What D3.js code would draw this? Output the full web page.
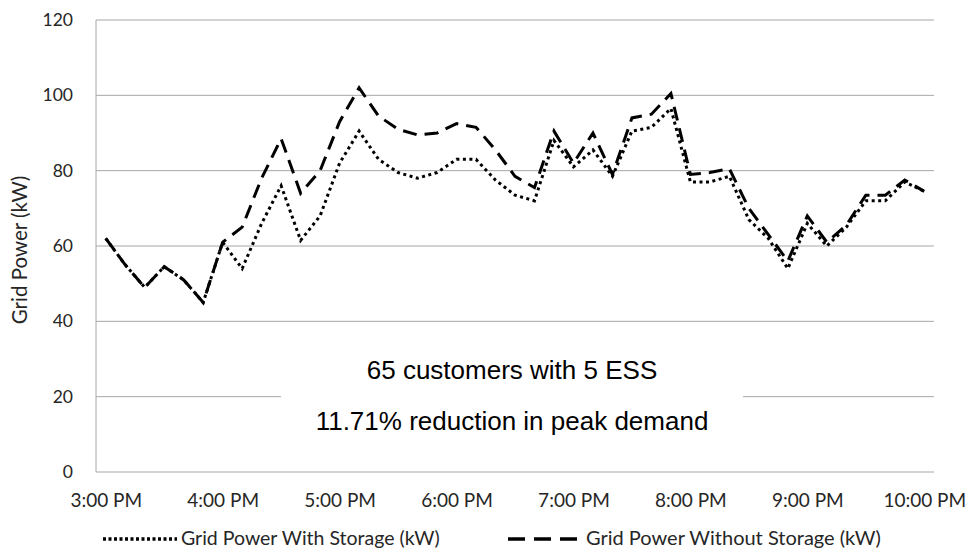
<!DOCTYPE html>
<html>
<head>
<meta charset="utf-8">
<script src="https://cdn.jsdelivr.net/npm/d3@7"></script>
<style>
  body { margin: 0; background: #fff; }
  text { font-family: Lato, "Open Sans", sans-serif; }
</style>
</head>
<body>
<svg id="chart"></svg>
<script>
// categories: every 10 minutes from 3:00 PM to 10:00 PM
const times = [
  '15:00', '15:10', '15:20', '15:30', '15:40', '15:50',
  '16:00', '16:10', '16:20', '16:30', '16:40', '16:50',
  '17:00', '17:10', '17:20', '17:30', '17:40', '17:50',
  '18:00', '18:10', '18:20', '18:30', '18:40', '18:50',
  '19:00', '19:10', '19:20', '19:30', '19:40', '19:50',
  '20:00', '20:10', '20:20', '20:30', '20:40', '20:50',
  '21:00', '21:10', '21:20', '21:30', '21:40', '21:50',
  '22:00'
];

const withStorage = [
  62, 55, 49, 54.5, 51, 45,
  61, 54, 66, 76, 61.5, 68,
  82, 90.5, 83, 79.5, 78, 79.5,
  83, 83, 77.5, 73.5, 72, 88,
  81, 85.5, 78.5, 90.5, 91.5, 96.5,
  77, 77, 78.5, 67, 62, 54,
  66, 60, 65, 72, 72, 77,
  74.5
];

const withoutStorage = [
  62, 55, 49, 54.5, 51, 45,
  61, 65, 78, 88.5, 74, 80,
  93, 102, 94.5, 91, 89.5, 90,
  92.5, 91.5, 85.5, 78.5, 75.5, 90.5,
  82, 90, 79, 94, 95, 100.5,
  79, 79.5, 80.5, 70, 63, 56,
  68, 61, 65.5, 73.5, 73.5, 77.5,
  74.5
];

const xTickLabels = ['3:00 PM', '4:00 PM', '5:00 PM', '6:00 PM', '7:00 PM', '8:00 PM', '9:00 PM', '10:00 PM'];
const yTicks = [0, 20, 40, 60, 80, 100, 120];
const seriesNames = ['Grid Power With Storage (kW)', 'Grid Power Without Storage (kW)'];
const noteLines = ['65 customers with 5 ESS', '11.71% reduction in peak demand'];

const W = 969, H = 555;
const margin = { top: 20, left: 96, right: 35, bottom: 83 };
const width = W - margin.left - margin.right;
const height = H - margin.top - margin.bottom;

const svg = d3.select('#chart').attr('width', W).attr('height', H);
const g = svg.append('g').attr('transform', `translate(${margin.left}, ${margin.top})`);

const x = d3.scalePoint()
  .domain(times)
  .range([0, width])
  .padding(0.5);

const y = d3.scaleLinear()
  .domain([0, 120])
  .range([height, 0]);

// grid lines
g.append('g')
  .selectAll('line')
  .data(yTicks)
  .enter()
  .append('line')
  .attr('x1', 0)
  .attr('x2', width)
  .attr('y1', d => y(d))
  .attr('y2', d => y(d))
  .attr('stroke', '#a6a6a6')
  .attr('stroke-width', 1);

// left axis line
g.append('line')
  .attr('x1', 0).attr('x2', 0)
  .attr('y1', 0).attr('y2', height)
  .attr('stroke', '#a6a6a6');

// y axis labels
const yAxis = d3.axisLeft(y).tickValues(yTicks).tickSize(0).tickPadding(23);
g.append('g')
  .call(yAxis)
  .call(s => s.select('.domain').remove())
  .selectAll('text')
  .attr('font-size', 17.5)
  .attr('fill', '#262626')
  .style('font-family', 'Lato, sans-serif');

// x axis labels, one per hour
const hourCats = times.filter((t, i) => i % 6 === 0);
const xAxis = d3.axisBottom(x)
  .tickValues(hourCats)
  .tickFormat((d, i) => xTickLabels[i])
  .tickSize(0)
  .tickPadding(35);
g.append('g')
  .attr('transform', `translate(0, ${height})`)
  .call(xAxis)
  .call(s => s.select('.domain').remove())
  .selectAll('text')
  .attr('font-size', 19)
  .attr('fill', '#262626')
  .attr('dy', 0)
  .style('font-family', 'Lato, sans-serif');

// y axis title
svg.append('text')
  .attr('transform', 'translate(27, 250) rotate(-90)')
  .attr('text-anchor', 'middle')
  .attr('font-size', 20.5)
  .attr('fill', '#262626')
  .text('Grid Power (kW)');

// annotation box
const noteX = 512;
g.append('rect')
  .attr('x', 281 - margin.left)
  .attr('y', 350 - margin.top)
  .attr('width', 743 - 281)
  .attr('height', 95)
  .attr('fill', '#fff');
g.selectAll('.note')
  .data(noteLines)
  .enter()
  .append('text')
  .attr('class', 'note')
  .attr('x', noteX - margin.left)
  .attr('y', (d, i) => 379 - margin.top + i * 51)
  .attr('text-anchor', 'middle')
  .attr('font-size', 26)
  .attr('fill', '#000')
  .style('font-family', '"Liberation Sans", Arial, sans-serif')
  .text(d => d);

// lines
const line = d3.line()
  .x((d, i) => x(times[i]))
  .y(d => y(d));

const styles = [
  { data: withStorage, dash: '3,3.5', legendDash: '3,2.5' },
  { data: withoutStorage, dash: '14,8', legendDash: '17,9' }
];

g.selectAll('.series')
  .data(styles)
  .enter()
  .append('path')
  .attr('class', 'series')
  .attr('d', d => line(d.data))
  .attr('fill', 'none')
  .attr('stroke', '#000')
  .attr('stroke-width', 3)
  .attr('stroke-dasharray', d => d.dash);

// legend
const legend = svg.append('g');
const legendPos = [103, 508];
const legendSize = [19.5, 20];
styles.forEach((s, i) => {
  legend.append('line')
    .attr('x1', legendPos[i])
    .attr('x2', legendPos[i] + 74)
    .attr('y1', 539)
    .attr('y2', 539)
    .attr('stroke', '#000')
    .attr('stroke-width', 3.5)
    .attr('stroke-dasharray', s.legendDash);
  legend.append('text')
    .attr('x', legendPos[i] + 78)
    .attr('y', 545)
    .attr('font-size', legendSize[i])
    .attr('fill', '#262626')
    .text(seriesNames[i]);
});
</script>
</body>
</html>
